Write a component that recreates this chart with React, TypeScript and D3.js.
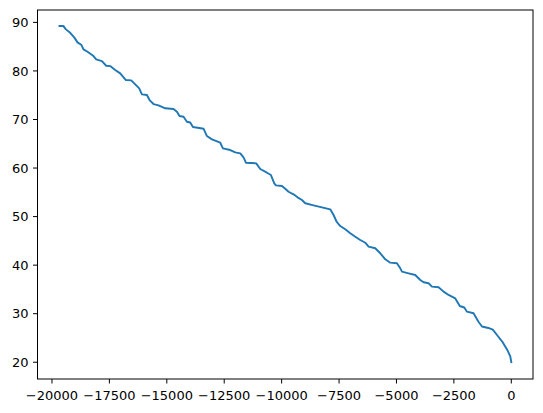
import React from "react";
import * as d3 from "d3";

const xValues = [
  -19672, -19498, -19393, -19206, -19032, -18888, -18714, -18627, -18452, -18191,
  -18073, -17825, -17638, -17464, -17246, -17028, -16780, -16549, -16331, -16201,
  -16083, -15866, -15752, -15578, -15360, -15068, -14707, -14559, -14446, -14271,
  -14123, -13980, -13862, -13588, -13400, -13252, -13035, -12673, -12556, -12238,
  -12020, -11802, -11659, -11554, -11105, -10931, -10639, -10465, -10321, -10247,
  -9986, -9842, -9699, -9481, -9307, -9115, -8971, -8610, -8244, -7883,
  -7739, -7600, -7447, -7229, -7012, -6794, -6576, -6358, -6215, -5923,
  -5705, -5487, -5270, -4978, -4834, -4760, -4473, -4181, -3963, -3819,
  -3602, -3454, -3166, -2948, -2731, -2439, -2243, -2047, -1929, -1642,
  -1437, -1276, -1002, -806, -588, -370, -174, -44, 0,
];
const yValues = [
  89.24, 89.24, 88.56, 87.86, 86.91, 85.88, 85.33, 84.44, 83.95, 83.06,
  82.38, 82.03, 81.07, 81.0, 80.18, 79.5, 78.12, 78.06, 77.03, 76.41,
  75.18, 75.03, 74.0, 73.18, 72.91, 72.3, 72.15, 71.6, 70.71, 70.57,
  69.54, 69.37, 68.45, 68.24, 68.1, 66.59, 65.91, 65.21, 64.06, 63.71,
  63.24, 63.03, 62.21, 61.1, 60.97, 59.8, 59.04, 58.56, 56.85, 56.44,
  56.3, 55.74, 55.12, 54.59, 53.97, 53.42, 52.74, 52.32, 51.91, 51.5,
  50.33, 48.89, 48.06, 47.38, 46.56, 45.86, 45.18, 44.62, 43.8, 43.47,
  42.44, 41.21, 40.51, 40.38, 39.35, 38.65, 38.32, 37.97, 36.94, 36.47,
  36.27, 35.57, 35.44, 34.54, 33.86, 33.14, 31.59, 31.28, 30.42, 30.09,
  28.4, 27.37, 27.06, 26.71, 25.41, 24.08, 22.53, 21.19, 20.0,
];
const xTicks = [-20000, -17500, -15000, -12500, -10000, -7500, -5000, -2500, 0];
const yTicks = [20, 30, 40, 50, 60, 70, 80, 90];

const W = 543;
const H = 413;
const L = 37.5;
const R = 533;
const T = 10;
const B = 379;

const fmt = (v: number) => (v < 0 ? "\u2212" + Math.abs(v) : String(v));

export default function App() {
  const x = d3.scaleLinear().domain([-20630, 945]).range([L, R]);
  const y = d3.scaleLinear().domain([16.55, 92.55]).range([B, T]);
  const pts: [number, number][] = xValues.map((v, i) => [v, yValues[i]]);
  const line = d3
    .line<[number, number]>()
    .x((d) => x(d[0]))
    .y((d) => y(d[1]));
  const textStyle = { fontFamily: "'DejaVu Sans', 'Noto Sans', sans-serif", fontSize: "13px" };
  return (
    <svg
      width={W}
      height={H}
      style={{ position: "absolute", left: 0, top: 0, background: "#fff" }}
    >
      <rect x={0} y={0} width={W} height={H} fill="#fff" />
      <path
        d={line(pts) || ""}
        fill="none"
        stroke="#1f77b4"
        strokeWidth={1.9}
        strokeLinejoin="round"
        strokeLinecap="square"
      />
      <rect
        x={L}
        y={T}
        width={R - L}
        height={B - T}
        fill="none"
        stroke="#000"
        strokeWidth={1}
      />
      {xTicks.map((t) => (
        <g key={"x" + t}>
          <line x1={x(t)} x2={x(t)} y1={B} y2={B + 4.5} stroke="#000" strokeWidth={1} />
          <text x={x(t)} y={400} textAnchor="middle" style={textStyle} fill="#000">
            {fmt(t)}
          </text>
        </g>
      ))}
      {yTicks.map((t) => (
        <g key={"y" + t}>
          <line x1={L - 4.5} x2={L} y1={y(t)} y2={y(t)} stroke="#000" strokeWidth={1} />
          <text x={L - 9} y={y(t) + 4.7} textAnchor="end" style={textStyle} fill="#000">
            {fmt(t)}
          </text>
        </g>
      ))}
    </svg>
  );
}
